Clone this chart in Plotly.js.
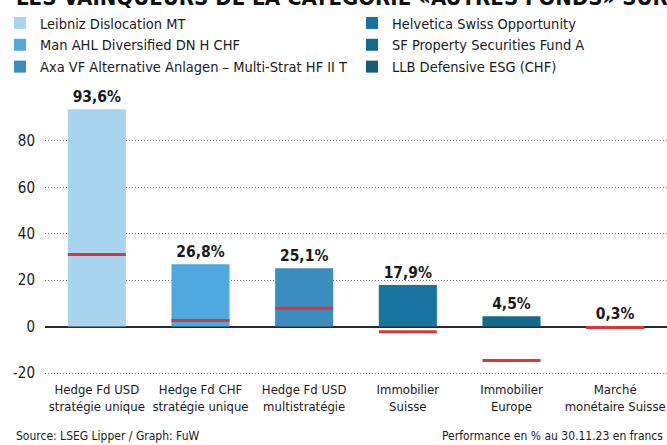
<!DOCTYPE html>
<html>
<head>
<meta charset="utf-8">
<script src="https://cdn.plot.ly/plotly-3.0.1.min.js"></script>
<style>
  html, body { margin: 0; padding: 0; background: #ffffff; }
  #chart { width: 667px; height: 445px; }
</style>
</head>
<body>
<div id="chart"></div>
<script>
// ---- data ----
const categories = [
  "Hedge Fd USD<br>stratégie unique",
  "Hedge Fd CHF<br>stratégie unique",
  "Hedge Fd USD<br>multistratégie",
  "Immobilier<br>Suisse",
  "Immobilier<br>Europe",
  "Marché<br>monétaire Suisse"
];
const fundNames = [
  "Leibniz Dislocation MT",
  "Man AHL Diversified DN H CHF",
  "Axa VF Alternative Anlagen – Multi-Strat HF II T",
  "Helvetica Swiss Opportunity",
  "SF Property Securities Fund A",
  "LLB Defensive ESG (CHF)"
];
const fundPerformance = [93.6, 26.8, 25.1, 17.9, 4.5, 0.3];
const categoryAverage = [31.0, 2.6, 7.9, -2.2, -14.6, -0.4];
const yTickValues = [-20, 0, 20, 40, 60, 80];

// ---- style ----
const fundColors = ["#a9d4ef", "#4ea9de", "#3a8dbe", "#17749f", "#136a8c", "#155d75"];
const avgColor = "#d9383a";
const FONT = "'DejaVu Sans Condensed', 'Liberation Sans Narrow', 'Roboto', sans-serif";
const BAR_W = 0.56;
const AVG_THICK = 1.3;

const traces = [];
fundNames.forEach((name, i) => {
  traces.push({
    type: "bar",
    name: name,
    x: [categories[i]],
    y: [fundPerformance[i]],
    width: [BAR_W],
    marker: { color: fundColors[i] },
    text: [fundPerformance[i].toFixed(1).replace(".", ",") + "%"],
    textposition: "outside",
    constraintext: "none",
    cliponaxis: false,
    textfont: { family: FONT, size: 15.5, color: "#1a1a1a", weight: "bold" },
    legend: i < 3 ? "legend" : "legend2",
    legendrank: i,
    hoverinfo: "name+y"
  });
});
traces.push({
  type: "bar",
  x: categories,
  y: categoryAverage.map(() => AVG_THICK),
  base: categoryAverage.map(v => v - AVG_THICK / 2),
  width: categories.map(() => BAR_W),
  marker: { color: avgColor },
  showlegend: false,
  textposition: "none",
  hoverinfo: "skip"
});

const legendCommon = {
  xref: "container", yref: "container",
  xanchor: "left", yanchor: "top",
  orientation: "v",
  bgcolor: "rgba(0,0,0,0)",
  borderwidth: 0,
  tracegroupgap: 0,
  traceorder: "normal",
  font: { family: FONT, size: 14.5, color: "#1a1a1a" }
};

const layout = {
  width: 667, height: 445,
  margin: { l: 45, r: 0, t: 99, b: 65, autoexpand: false },
  paper_bgcolor: "#ffffff",
  plot_bgcolor: "#ffffff",
  barmode: "overlay",
  showlegend: true,
  legend: Object.assign({}, legendCommon, { x: 0.0, y: 1 - 7 / 445 }),
  legend2: Object.assign({}, legendCommon, { x: 352 / 667, y: 1 - 7 / 445 }),
  xaxis: {
    type: "category",
    showgrid: false,
    showline: false,
    ticks: "",
    tickangle: 0,
    automargin: false,
    tickfont: { family: FONT, size: 13, color: "#1a1a1a" },
    fixedrange: true
  },
  yaxis: {
    range: [-23, 98],
    tickvals: yTickValues,
    ticktext: yTickValues.map(String),
    showgrid: true,
    gridcolor: "#6e6e6e",
    griddash: "1px,2px",
    gridwidth: 1,
    zeroline: true,
    zerolinecolor: "#2a2a2a",
    zerolinewidth: 2,
    showline: false,
    ticks: "",
    automargin: false,
    ticklabelstandoff: 9,
    tickfont: { family: FONT, size: 15, color: "#1a1a1a" },
    fixedrange: true
  },
  annotations: [
    {
      text: "LES VAINQUEURS DE LA CATÉGORIE «AUTRES FONDS» SUR 5 ANS",
      xref: "paper", yref: "paper",
      x: -31 / 622, y: 1 + 101 / 281,
      xanchor: "left", yanchor: "middle",
      showarrow: false,
      font: { family: FONT, size: 22, color: "#111111", weight: "bold" }
    },
    {
      text: "Source: LSEG Lipper / Graph: FuW",
      xref: "paper", yref: "paper",
      x: -31 / 622, y: -56 / 281,
      xanchor: "left", yanchor: "middle",
      showarrow: false,
      font: { family: FONT, size: 12, color: "#1a1a1a" }
    },
    {
      text: "Performance en % au 30.11.23 en francs",
      xref: "paper", yref: "paper",
      x: 1 - 2 / 622, y: -56 / 281,
      xanchor: "right", yanchor: "middle",
      showarrow: false,
      font: { family: FONT, size: 12, color: "#1a1a1a" }
    }
  ]
};

Plotly.newPlot("chart", traces, layout, { displayModeBar: false, staticPlot: true });
</script>
</body>
</html>
